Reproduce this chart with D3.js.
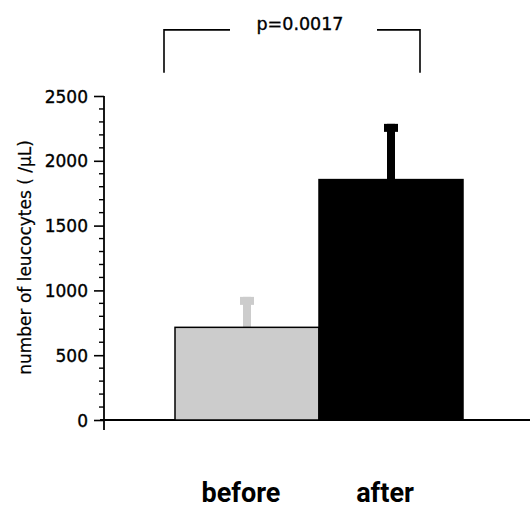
<!DOCTYPE html>
<html>

<head>
    <meta charset="utf-8">
    <title></title>
    <script src="https://d3js.org/d3.v7.min.js"></script>
    <style>
        html,
        body {
            margin: 0;
            padding: 0;
            background: #fff;
        }

        .num {
            font-family: 'DejaVu Sans', sans-serif;
            fill: #000;
            stroke: #000;
            stroke-width: 0.35px;
        }
    </style>
</head>

<body>

    <div id="chart"></div>

    <script>
        // data
        const groups = ["before", "after"];
        const means = [715, 1855];
        const errTops = [950, 2285];
        const barColors = ["#cccccc", "#000000"];
        const yTicks = [0, 500, 1000, 1500, 2000, 2500];
        const pLabel = "p=0.0017";

        const W = 530, H = 509;

        const svg = d3.select("#chart")
            .append("svg")
            .attr("width", W)
            .attr("height", H);

        // scales
        const y = d3.scaleLinear()
            .domain([0, 2500])
            .range([420, 96]);

        const x = d3.scaleBand()
            .domain(groups)
            .range([175, 463])
            .padding(0);

        // Y axis with minor ticks
        const yAxis = svg.append("g")
            .attr("transform", "translate(104,0)")
            .call(d3.axisLeft(y)
                .tickValues(yTicks)
                .tickFormat(d3.format("d"))
                .tickSize(10)
                .tickPadding(6)
                .tickSizeOuter(0));
        yAxis.select(".domain").remove();
        yAxis.selectAll(".tick line").attr("stroke-width", 1.6);
        yAxis.selectAll("text")
            .attr("class", "num")
            .style("font-size", "17px")
            .attr("dy", "0.36em");

        svg.append("g")
            .attr("transform", "translate(104,0)")
            .selectAll("line")
            .data(d3.range(0, 2501, 100).filter(v => v % 500 !== 0))
            .enter()
            .append("line")
            .attr("x1", -5)
            .attr("x2", 0)
            .attr("y1", d => y(d))
            .attr("y2", d => y(d))
            .attr("stroke", "#000")
            .attr("stroke-width", 1.4);

        // axis lines
        svg.append("line")
            .attr("x1", 104).attr("x2", 104)
            .attr("y1", y(2500)).attr("y2", y(0) + 10)
            .attr("stroke", "#000").attr("stroke-width", 1.8);

        svg.append("line")
            .attr("x1", 100).attr("x2", W)
            .attr("y1", y(0)).attr("y2", y(0))
            .attr("stroke", "#000").attr("stroke-width", 1.8);

        // error bars (drawn before bars so the stem starts at the bar top)
        const err = svg.append("g");
        groups.forEach((g, i) => {
            const cx = x(g) + x.bandwidth() / 2;
            err.append("rect")
                .attr("x", cx - 4)
                .attr("width", 8)
                .attr("y", y(errTops[i]))
                .attr("height", y(means[i]) - y(errTops[i]))
                .attr("fill", barColors[i]);
            err.append("rect")
                .attr("x", cx - 7)
                .attr("width", 14)
                .attr("y", y(errTops[i]))
                .attr("height", 8)
                .attr("fill", barColors[i]);
        });

        // bars
        svg.selectAll("rect.bar")
            .data(groups)
            .enter()
            .append("rect")
            .attr("class", "bar")
            .attr("x", d => x(d))
            .attr("width", x.bandwidth())
            .attr("y", (d, i) => y(means[i]))
            .attr("height", (d, i) => y(0) - y(means[i]))
            .attr("fill", (d, i) => barColors[i])
            .attr("stroke", "#000")
            .attr("stroke-width", 1.5);

        // x labels
        svg.selectAll("text.xlab")
            .data(groups)
            .enter()
            .append("text")
            .attr("class", "xlab")
            .attr("x", d => x(d) + x.bandwidth() / 2)
            .attr("dx", -6)
            .attr("y", 502)
            .attr("text-anchor", "middle")
            .style("font-family", "Roboto, sans-serif")
            .style("font-weight", "bold")
            .style("font-size", "27px")
            .text(d => d);

        // y label
        svg.append("text")
            .attr("transform", `translate(31,${(138 + 377) / 2}) rotate(-90)`)
            .attr("text-anchor", "middle")
            .style("font-family", "'DejaVu Sans', sans-serif")
            .style("font-size", "17px")
            .style("stroke", "#000")
            .style("stroke-width", "0.2px")
            .text("number of leucocytes ( /\u03bcL)");

        // significance bracket
        const bTop = y(3010), bBot = y(2680);
        const bLeft = x("before") - 11, bRight = x("after") + 101;
        const bracket = svg.append("g")
            .attr("fill", "none")
            .attr("stroke", "#000")
            .attr("stroke-width", 1.6);
        bracket.append("path")
            .attr("d", `M${bLeft},${bBot}V${bTop}H230`);
        bracket.append("path")
            .attr("d", `M377,${bTop}H${bRight}V${bBot}`);

        svg.append("text")
            .attr("class", "num")
            .attr("x", (bLeft + bRight) / 2 + 8)
            .attr("y", 30)
            .attr("text-anchor", "middle")
            .style("font-size", "17.5px")
            .text(pLabel);
    </script>
</body>

</html>
